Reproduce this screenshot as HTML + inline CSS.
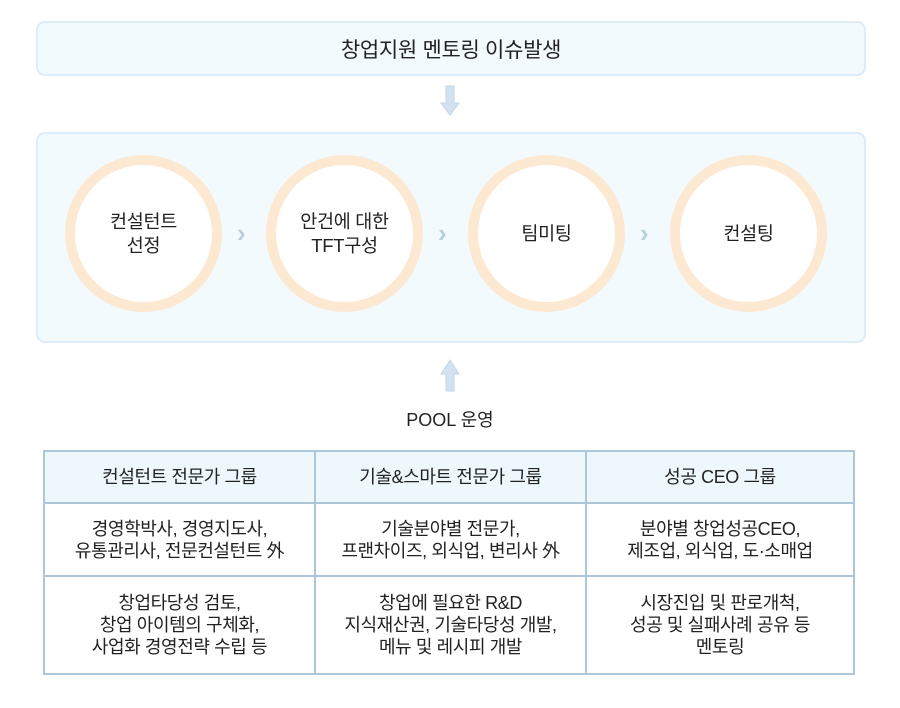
<!DOCTYPE html>
<html><head><meta charset="utf-8"><style>
body{margin:0;width:900px;height:708px;background:#fff;position:relative;font-family:"Liberation Sans","Noto Sans CJK KR",sans-serif;color:#222;overflow:hidden}
.box{position:absolute;left:36px;width:826px;background:#f3fafd;border:2px solid #dcecf8;border-radius:9px}
.c{position:absolute;width:137px;height:137px;border:10px solid #fde8d2;border-radius:50%;background:#fff;display:flex;align-items:center;justify-content:center;text-align:center;font-size:18.5px;line-height:24px;top:155px;letter-spacing:-0.3px}
.chev{position:absolute;top:218px;font-size:26px;color:#b9cfd9;font-weight:bold}
table{position:absolute;left:43px;top:450px;width:812px;border-collapse:collapse;font-size:18px;line-height:22px;text-align:center;table-layout:fixed;letter-spacing:-0.4px}
td{border:2px solid #adc7d8;padding:0}
th{border:2px solid #adc7d8;background:#eef8fc;font-weight:normal;height:48px;font-size:18px}
</style></head><body>
<div class="box" style="top:21px;height:51px;display:flex;align-items:center;justify-content:center;font-size:21px;letter-spacing:-0.3px">창업지원 멘토링 이슈발생</div>
<svg style="position:absolute;left:440px;top:85px" width="20" height="32"><path d="M6 1h8v17h5l-9 12-9-12h5z" fill="#d3e2f0" stroke="#c3d5e6"/></svg>
<div class="box" style="top:132px;height:207px"></div>
<div class="c" style="left:65px">컨설턴트<br>선정</div>
<div class="c" style="left:266px">안건에 대한<br>TFT구성</div>
<div class="c" style="left:468px">팀미팅</div>
<div class="c" style="left:670px">컨설팅</div>
<div class="chev" style="left:237px">›</div>
<div class="chev" style="left:438px">›</div>
<div class="chev" style="left:640px">›</div>
<svg style="position:absolute;left:440px;top:358px" width="20" height="34"><path d="M6 33h8v-17h5l-9-14-9 14h5z" fill="#d3e2f0" stroke="#c3d5e6"/></svg>
<div style="position:absolute;left:0;width:900px;top:406px;text-align:center;font-size:18px">POOL 운영</div>
<table>
<colgroup><col style="width:271px"><col style="width:271px"><col></colgroup>
<tr><th>컨설턴트 전문가 그룹</th><th>기술&amp;스마트 전문가 그룹</th><th>성공 CEO 그룹</th></tr>
<tr style="height:73px"><td>경영학박사, 경영지도사,<br>유통관리사, 전문컨설턴트 外</td><td>기술분야별 전문가,<br>프랜차이즈, 외식업, 변리사 外</td><td>분야별 창업성공CEO,<br>제조업, 외식업, 도·소매업</td></tr>
<tr style="height:98px"><td>창업타당성 검토,<br>창업 아이템의 구체화,<br>사업화 경영전략 수립 등</td><td>창업에 필요한 R&amp;D<br>지식재산권, 기술타당성 개발,<br>메뉴 및 레시피 개발</td><td>시장진입 및 판로개척,<br>성공 및 실패사례 공유 등<br>멘토링</td></tr>
</table>
</body></html>
